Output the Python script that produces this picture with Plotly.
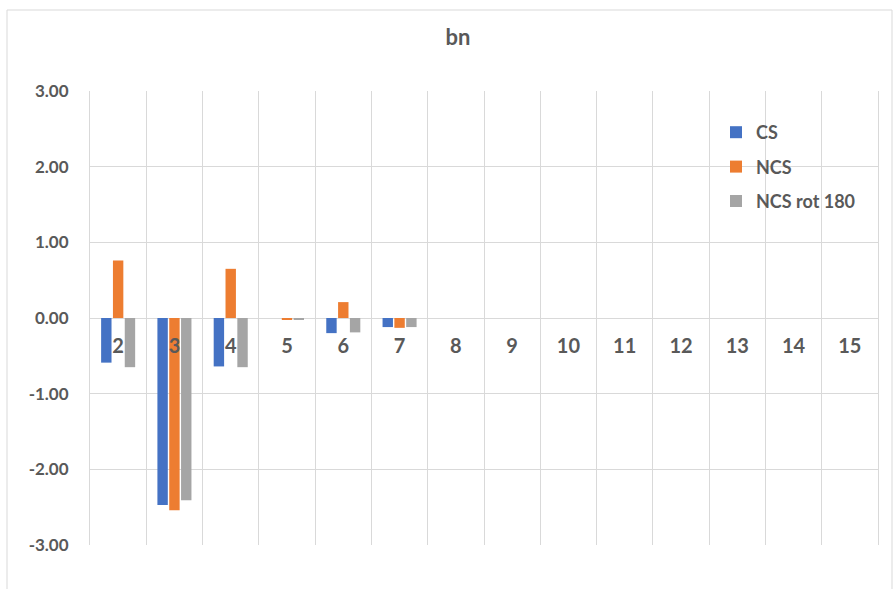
import plotly.graph_objects as go

# Harmonic order and coefficient values for each configuration
orders = ["2", "3", "4", "5", "6", "7", "8", "9", "10", "11", "12", "13", "14", "15"]
cs = [-0.59, -2.47, -0.64, 0.0, -0.20, -0.12, 0, 0, 0, 0, 0, 0, 0, 0]
ncs = [0.76, -2.54, 0.65, -0.02, 0.21, -0.13, 0, 0, 0, 0, 0, 0, 0, 0]
ncs_rot180 = [-0.65, -2.41, -0.65, -0.02, -0.19, -0.12, 0, 0, 0, 0, 0, 0, 0, 0]

y_ticks = [-3, -2, -1, 0, 1, 2, 3]
y_tick_labels = ["-3.00", "-2.00", "-1.00", "0.00", "1.00", "2.00", "3.00"]

series = [
    ("CS", cs, "#4472C4"),
    ("NCS", ncs, "#ED7D31"),
    ("NCS rot 180", ncs_rot180, "#A5A5A5"),
]

TEXT = "#595959"
GRID = "#D9D9D9"
FONT = "Lato"

fig = go.Figure()
for name, vals, color in series:
    fig.add_trace(go.Bar(
        x=orders, y=vals, name=name, legendgroup=name,
        marker=dict(color=color, line=dict(width=0)),
    ))

W, H = 895, 589
L, R, T, B = 90, 17, 91, 44
pw, ph = W - L - R, H - T - B

def px_x(v):
    return (v - L) / pw

def px_y(v):
    return (H - B - v) / ph

fig.update_layout(
    width=W, height=H,
    margin=dict(l=L, r=R, t=T, b=B, pad=0),
    paper_bgcolor="white", plot_bgcolor="white",
    font=dict(family=FONT, color=TEXT, size=14),
    barmode="group", bargap=0.37, bargroupgap=0.12,
    title=dict(text="<b>bn</b>", x=458 / W, xref="container", xanchor="center",
               y=1 - 37 / H, yref="container", yanchor="middle",
               font=dict(size=22, color=TEXT, family=FONT)),
    legend=dict(x=px_x(716), y=px_y(114), xanchor="left", yanchor="top",
                bgcolor="rgba(0,0,0,0)", font=dict(size=18, color=TEXT, family=FONT, weight="bold"),
                tracegroupgap=8, itemwidth=30),
    showlegend=True,
    xaxis=dict(type="category", categoryorder="array", categoryarray=orders,
               range=[-0.5, len(orders) - 0.5],
               tickson="boundaries", showgrid=True, gridcolor=GRID, gridwidth=1,
               ticks="", showline=False, zeroline=False,
               anchor="free", position=0.5, ticklabelstandoff=14,
               tickfont=dict(size=20, color=TEXT, family=FONT, weight="bold")),
    yaxis=dict(range=[-3, 3], tickvals=y_ticks, ticktext=y_tick_labels,
               showgrid=True, gridcolor=GRID, gridwidth=1, zeroline=False,
               showline=True, mirror=True, linecolor=GRID, linewidth=1,
               ticks="", ticklabelstandoff=17,
               tickfont=dict(size=17, color=TEXT, family=FONT, weight="bold")),
    shapes=[dict(type="rect", xref="paper", yref="paper",
                 x0=px_x(7), x1=px_x(892), y0=px_y(600), y1=px_y(10),
                 line=dict(color="#D9D9D9", width=1), fillcolor="rgba(0,0,0,0)",
                 layer="below")],
)

fig.write_html("out.html")
